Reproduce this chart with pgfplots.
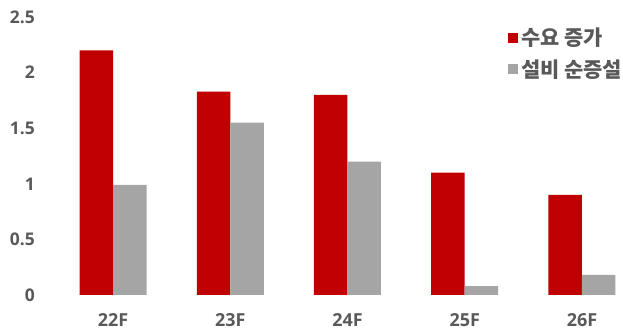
\documentclass[border=0pt]{standalone}
\usepackage{pgfplots}
\pgfplotsset{compat=1.18}
\usepackage{fontspec}
\setmainfont{Open Sans}
\newfontfamily\kr{Noto Sans CJK KR}
\definecolor{barred}{HTML}{C00000}
\definecolor{bargray}{HTML}{A5A5A5}
\definecolor{txt}{HTML}{595959}

\begin{document}
\begin{tikzpicture}
\path[use as bounding box] (0,0) rectangle (623bp,333bp);
\begin{axis}[
  at={(54.4bp,38bp)}, anchor=south west,
  scale only axis,
  width=568.6bp, height=278bp,
  xmin=-0.5, xmax=4.35,
  ymin=0, ymax=2.5,
  ytick={0,0.5,1,1.5,2,2.5},
  yticklabels={0,0.5,1,1.5,2,2.5},
  xtick={0,1,2,3,4},
  xticklabels={22F,23F,24F,25F,26F},
  axis line style={draw=none},
  major tick length=0pt,
  yticklabel style={anchor=east, inner sep=0pt, xshift=-19.4bp, font=\bfseries\fontsize{17.5}{18}\selectfont, text=txt},
  xticklabel style={anchor=center, inner sep=0pt, yshift=-25bp, font=\bfseries\fontsize{18}{18}\selectfont, text=txt},
  ybar, bar width=33.5bp,
  legend style={draw=none, fill=none, at={(508bp-54.4bp,333bp-53.35bp-38bp)}, anchor=west,
    font=\kr\bfseries\fontsize{21}{21}\selectfont, text=txt,
    row sep=12bp, inner sep=0pt, nodes={inner sep=0pt, anchor=west}},
  legend cell align=left,
  legend image code/.code={\fill[#1, draw=none] (0bp,-5bp) rectangle (10bp,5bp);\path (0bp,0bp) -- (13bp,0bp);},
]
\addplot[fill=barred, draw=none, bar shift=-16.75bp] coordinates {(0,2.2) (1,1.83) (2,1.80) (3,1.10) (4,0.90)};
\addlegendentry{수요 증가}
\addplot[fill=bargray, draw=none, bar shift=16.75bp] coordinates {(0,0.99) (1,1.55) (2,1.20) (3,0.08) (4,0.18)};
\addlegendentry{설비 순증설}
\end{axis}
\end{tikzpicture}
\end{document}
